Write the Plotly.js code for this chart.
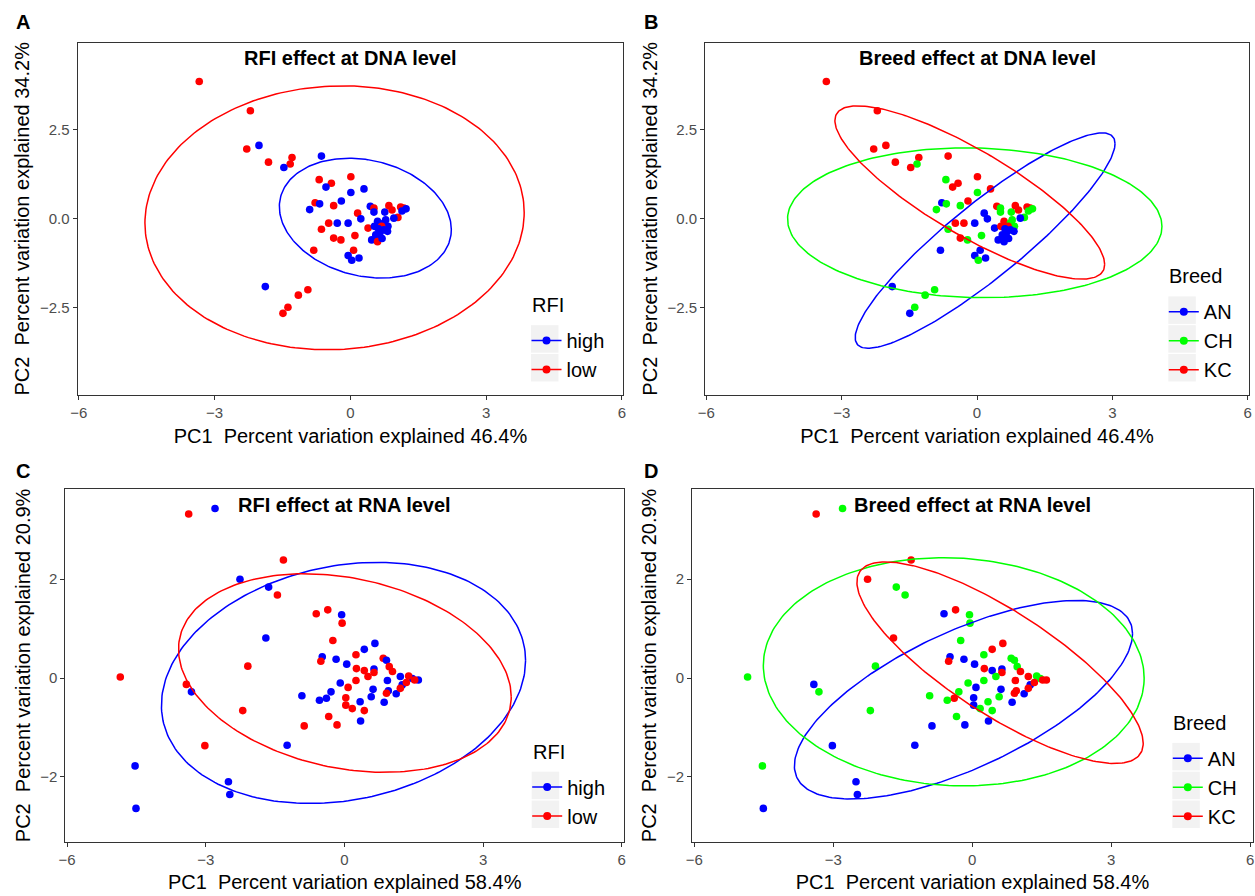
<!DOCTYPE html>
<html>
<head>
<meta charset="utf-8">
<script src="https://cdn.plot.ly/plotly-3.0.1.min.js"></script>
<style>html,body{margin:0;padding:0;background:#fff;}</style>
</head>
<body>
<div id="chart" style="width:1255px;height:896px;"></div>
<script>
// ---------------- DNA level PCA scores (panels A and B) ----------------
const dnaPC1 = [-3.34,-2.21,-2.29,-2.02,-1.81,-1.29,-1.33,-1.47,-0.64,-0.69,-0.42,-0.54,0.01,0.30,0.01,-0.20,-0.78,-0.68,-0.90,-0.37,0.16,-0.05,0.23,-0.29,-0.48,-0.64,-0.37,-0.21,0.10,0.39,-0.81,0.07,-0.05,0.03,0.19,-1.88,-0.94,-1.15,-1.38,-1.49,0.44,0.52,0.52,0.76,0.85,0.92,1.05,1.11,1.18,1.23,1.14,0.96,0.60,0.78,0.74,0.83,0.53,0.69,0.74,0.65,0.56,0.60,0.47,0.60,0.70,0.82,0.62];
const dnaPC2 = [3.85,3.03,1.96,2.06,1.59,1.72,1.54,1.44,1.76,1.10,1.00,0.89,1.18,0.84,0.74,0.50,0.45,0.42,0.26,0.37,0.16,-0.12,0.00,-0.12,-0.12,-0.29,-0.54,-0.59,-0.47,-0.26,-0.88,-0.88,-1.03,-1.16,-1.10,-1.90,-1.99,-2.14,-2.48,-2.65,0.35,0.30,0.19,0.19,0.37,0.25,0.04,0.33,0.30,0.28,0.22,0.02,-0.07,-0.03,-0.12,-0.21,-0.21,-0.21,-0.31,-0.40,-0.45,-0.50,-0.59,-0.64,-0.55,-0.35,-0.28];
const dnaRFI = ['low','low','low','high','low','low','low','high','high','low','low','high','low','high','high','high','low','high','high','low','low','high','high','high','low','low','low','low','low','low','low','low','high','high','high','high','low','low','low','low','high','low','high','high','low','low','low','low','low','high','high','high','high','high','high','high','high','low','high','high','high','high','high','low','high','high','high'];
const dnaBreed = ['KC','KC','KC','KC','KC','KC','CH','KC','KC','CH','KC','KC','KC','KC','CH','KC','AN','CH','CH','CH','AN','AN','AN','KC','KC','CH','KC','CH','CH','AN','AN','AN','AN','CH','AN','AN','CH','CH','CH','AN','KC','CH','CH','CH','KC','KC','CH','KC','KC','CH','CH','AN','KC','CH','CH','CH','KC','KC','AN','AN','AN','AN','AN','AN','AN','AN','AN'];

// ---------------- RNA level PCA scores (panels C and D) ----------------
const rnaPC1 = [-3.37,-2.80,-1.32,-2.26,-1.64,-1.45,-0.61,-0.36,-0.06,-0.05,-0.25,-1.70,-2.09,-4.85,-3.42,-3.31,-2.20,-3.02,-1.24,-4.53,-4.51,-2.51,-2.48,0.66,0.43,-0.48,-0.51,-0.18,0.05,0.25,0.26,0.43,0.64,0.64,0.51,0.84,0.91,0.97,1.04,0.25,-0.09,0.08,-0.29,-0.39,-0.54,-0.92,0.03,0.03,0.17,0.34,0.43,-0.34,-0.16,-0.87,0.35,0.62,0.58,0.86,0.95,0.91,0.93,1.12,1.21,1.25,1.60,1.47,1.21,1.39,1.52,1.34];
const rnaPC2 = [3.32,3.43,2.39,2.00,1.84,1.68,1.30,1.38,1.28,1.11,0.76,0.81,0.24,0.02,-0.13,-0.28,-0.66,-1.37,-1.36,-1.78,-2.64,-2.10,-2.36,0.70,0.58,0.43,0.34,0.38,0.28,0.47,0.19,0.15,0.18,0.11,0.03,0.40,0.36,0.23,0.13,-0.05,-0.10,-0.19,-0.28,-0.41,-0.45,-0.36,-0.40,-0.55,-0.62,-0.48,-0.66,-0.78,-0.95,-0.97,-0.87,-0.23,-0.38,-0.49,-0.26,-0.31,-0.05,-0.32,0.03,-0.14,-0.04,-0.01,-0.21,0.04,-0.04,-0.09];
const rnaRFI = ['low','high','low','high','high','low','low','low','high','low','low','high','low','low','low','high','low','low','high','high','high','high','high','high','high','high','low','high','high','low','low','low','high','low','low','low','high','low','low','low','high','low','high','high','high','high','low','low','low','high','low','low','low','low','high','high','high','high','high','low','high','high','high','high','high','high','low','low','low','low'];
const rnaBreed = ['KC','CH','KC','KC','CH','CH','AN','KC','CH','CH','CH','KC','CH','CH','AN','CH','CH','AN','AN','CH','AN','AN','AN','KC','KC','AN','KC','AN','AN','CH','KC','AN','AN','KC','CH','CH','CH','CH','KC','CH','CH','AN','CH','KC','CH','CH','AN','AN','CH','CH','CH','CH','AN','AN','AN','AN','CH','AN','KC','KC','KC','AN','KC','AN','KC','CH','KC','CH','KC','KC'];

// ---------------- group levels and colours ----------------
const rfiLevels = ['high','low'];
const rfiColors = ['#0000FF','#FF0000'];
const breedLevels = ['AN','CH','KC'];
const breedColors = ['#0000FF','#00FF00','#FF0000'];

// ---------------- 95% ellipse parameters ----------------
// centre (cx, cy), half extent along PC1 (w) and PC2 (h), correlation (rho)
const ellA_group = ['high','low'];
const ellA_cx = [0.33,-0.35]; const ellA_cy = [0.02,0.03];
const ellA_w = [1.90,4.19];   const ellA_h = [1.68,3.70];   const ellA_rho = [-0.19,0.04];
const ellB_group = ['AN','CH','KC'];
const ellB_cx = [0.18,-0.05,-0.16]; const ellB_cy = [-0.61,-0.11,0.74];
const ellB_w = [2.88,4.15,2.99];    const ellB_h = [3.02,2.10,2.43];    const ellB_rho = [0.90,-0.05,-0.83];
const ellC_group = ['high','low'];
const ellC_cx = [-0.02,0.01]; const ellC_cy = [-0.10,0.10];
const ellC_w = [3.94,3.60];   const ellC_h = [2.44,2.01];   const ellC_rho = [0.185,-0.24];
const ellD_group = ['AN','CH','KC'];
const ellD_cx = [-0.19,-0.40,0.60]; const ellD_cy = [-0.44,0.125,0.31];
const ellD_w = [3.65,4.11,3.09];    const ellD_h = [2.01,2.31,2.04];    const ellD_rho = [0.665,-0.055,-0.80];

// ---------------- layout helpers ----------------
const W = 1255, H = 896;
const FONT = 'Liberation Sans, Arial, Helvetica, sans-serif';
const px = v => v / W;
const py = v => 1 - v / H;

function colorOf(levels, colors, g) { return colors[levels.indexOf(g)]; }

function pointsTrace(xs, ys, groups, levels, colors, xa, ya) {
  return {type:'scatter', mode:'markers', x:xs, y:ys, xaxis:xa, yaxis:ya,
    marker:{size:7.6, color:groups.map(g => colorOf(levels, colors, g)), line:{width:0}},
    showlegend:false, hoverinfo:'skip'};
}
function ellipseTrace(cx, cy, w, h, rho, color, xa, ya) {
  const n = 240, xs = [], ys = [], s = Math.sqrt(1 - rho*rho);
  for (let i = 0; i <= n; i++) {
    const t = 2*Math.PI*i/n;
    xs.push(cx + w*Math.cos(t));
    ys.push(cy + h*(rho*Math.cos(t) + s*Math.sin(t)));
  }
  return {type:'scatter', mode:'lines', x:xs, y:ys, xaxis:xa, yaxis:ya,
    line:{color:color, width:1.5}, showlegend:false, hoverinfo:'skip'};
}
function legendTraces(levels, colors, legendId, xa, ya) {
  return levels.map((g, i) => ({type:'scatter', mode:'lines+markers', x:[null], y:[null],
    xaxis:xa, yaxis:ya, name:g, legend:legendId,
    line:{color:colors[i], width:1.5}, marker:{color:colors[i], size:8}, hoverinfo:'skip'}));
}

const traces = [];
// Panel A
traces.push(pointsTrace(dnaPC1, dnaPC2, dnaRFI, rfiLevels, rfiColors, 'x', 'y'));
ellA_group.forEach((g, i) => traces.push(ellipseTrace(ellA_cx[i], ellA_cy[i], ellA_w[i], ellA_h[i], ellA_rho[i], colorOf(rfiLevels, rfiColors, g), 'x', 'y')));
traces.push(...legendTraces(rfiLevels, rfiColors, 'legend', 'x', 'y'));
// Panel B
traces.push(pointsTrace(dnaPC1, dnaPC2, dnaBreed, breedLevels, breedColors, 'x2', 'y2'));
ellB_group.forEach((g, i) => traces.push(ellipseTrace(ellB_cx[i], ellB_cy[i], ellB_w[i], ellB_h[i], ellB_rho[i], colorOf(breedLevels, breedColors, g), 'x2', 'y2')));
traces.push(...legendTraces(breedLevels, breedColors, 'legend2', 'x2', 'y2'));
// Panel C
traces.push(pointsTrace(rnaPC1, rnaPC2, rnaRFI, rfiLevels, rfiColors, 'x3', 'y3'));
ellC_group.forEach((g, i) => traces.push(ellipseTrace(ellC_cx[i], ellC_cy[i], ellC_w[i], ellC_h[i], ellC_rho[i], colorOf(rfiLevels, rfiColors, g), 'x3', 'y3')));
traces.push(...legendTraces(rfiLevels, rfiColors, 'legend3', 'x3', 'y3'));
// Panel D
traces.push(pointsTrace(rnaPC1, rnaPC2, rnaBreed, breedLevels, breedColors, 'x4', 'y4'));
ellD_group.forEach((g, i) => traces.push(ellipseTrace(ellD_cx[i], ellD_cy[i], ellD_w[i], ellD_h[i], ellD_rho[i], colorOf(breedLevels, breedColors, g), 'x4', 'y4')));
traces.push(...legendTraces(breedLevels, breedColors, 'legend4', 'x4', 'y4'));

// panel boxes in pixels: [left, right, top, bottom]
const boxA = [77.5, 623.3, 42.7, 395];
const boxB = [705, 1249, 42.7, 395];
const boxC = [65.3, 624, 489.3, 841.5];
const boxD = [692, 1253, 489.3, 841.5];

function xAxis(box, range, titleText, anchor) {
  return {domain:[px(box[0]), px(box[1])], range:range, anchor:anchor,
    tickvals:[-6,-3,0,3,6], ticktext:['\u22126','\u22123','0','3','6'],
    showgrid:false, zeroline:false, showline:true, mirror:true, linecolor:'#333333', linewidth:1,
    ticks:'outside', ticklen:4, tickwidth:1, tickcolor:'#333333',
    tickfont:{family:FONT, size:15, color:'#4D4D4D'},
    title:{text:titleText, font:{family:FONT, size:20, color:'#000000'}, standoff:8}};
}
function yAxis(box, range, vals, texts, titleText, anchor) {
  return {domain:[py(box[3]), py(box[2])], range:range, anchor:anchor,
    tickvals:vals, ticktext:texts,
    showgrid:false, zeroline:false, showline:true, mirror:true, linecolor:'#333333', linewidth:1,
    ticks:'outside', ticklen:4, tickwidth:1, tickcolor:'#333333',
    tickfont:{family:FONT, size:15, color:'#4D4D4D'},
    title:{text:titleText, font:{family:FONT, size:20, color:'#000000'}, standoff:4}};
}

const dnaX = 'PC1 \u00A0Percent variation explained 46.4%';
const dnaY = 'PC2 \u00A0Percent variation explained 34.2%';
const rnaX = 'PC1 \u00A0Percent variation explained 58.4%';
const rnaY = 'PC2 \u00A0Percent variation explained 20.9%';
const dnaYTicks = [-2.5, 0, 2.5], dnaYText = ['\u22122.5','0.0','2.5'];
const rnaYTicks = [-2, 0, 2], rnaYText = ['\u22122','0','2'];

// legend key boxes (pixels): left, first row top, rows, title
const keySize = 27.5, keyPitch = 28.8;
function legendSpec(boxLeft, firstTop) {
  return {x:px(boxLeft - 4.5), y:py(firstTop + keySize/2 - 19.5 + 1.5), xanchor:'left', yanchor:'top',
    bgcolor:'rgba(0,0,0,0)', borderwidth:0, font:{family:FONT, size:20, color:'#000000'},
    itemclick:false, itemdoubleclick:false};
}
const legA = [531.0, 325.2, 2, 'RFI'];
const legB = [1168.3, 296.4, 3, 'Breed'];
const legC = [531.7, 771.7, 2, 'RFI'];
const legD = [1172.3, 742.9, 3, 'Breed'];

const shapes = [];
[legA, legB, legC, legD].forEach(l => {
  for (let i = 0; i < l[2]; i++) {
    const top = l[1] + i*keyPitch;
    shapes.push({type:'rect', xref:'paper', yref:'paper', layer:'above',
      x0:px(l[0]), x1:px(l[0] + keySize), y0:py(top + keySize), y1:py(top),
      fillcolor:'#F2F2F2', line:{width:0}});
  }
});

function ann(text, x, y, size, bold, xanchor) {
  return {text:text, xref:'paper', yref:'paper', x:x, y:y, xanchor:xanchor || 'center', yanchor:'middle',
    showarrow:false, font:{family:FONT, size:size, color:'#000000', weight: bold ? 'bold' : 'normal'}};
}
const annotations = [
  ann('A', px(23), py(22.5), 20, true),
  ann('B', px(651), py(22.5), 20, true),
  ann('C', px(23), py(471), 20, true),
  ann('D', px(651), py(471), 20, true),
  ann('RFI effect at DNA level', px((boxA[0]+boxA[1])/2), py(58), 20, true),
  ann('Breed effect at DNA level', px((boxB[0]+boxB[1])/2), py(58), 20, true),
  ann('RFI effect at RNA level', px((boxC[0]+boxC[1])/2), py(505), 20, true),
  ann('Breed effect at RNA level', px((boxD[0]+boxD[1])/2), py(505), 20, true)
];
// legend titles
[legA, legB, legC, legD].forEach(l => annotations.push(ann(l[3], px(l[0] - 1), py(l[1] - 20), 20, false, 'left')));

const layout = {
  width:W, height:H, margin:{l:0, r:0, t:0, b:0},
  paper_bgcolor:'#FFFFFF', plot_bgcolor:'rgba(0,0,0,0)',
  font:{family:FONT},
  xaxis: xAxis(boxA, [-6.03, 6.03], dnaX, 'y'),
  yaxis: yAxis(boxA, [-4.94, 4.94], dnaYTicks, dnaYText, dnaY, 'x'),
  xaxis2: xAxis(boxB, [-6.03, 6.03], dnaX, 'y2'),
  yaxis2: yAxis(boxB, [-4.94, 4.94], dnaYTicks, dnaYText, dnaY, 'x2'),
  xaxis3: xAxis(boxC, [-6.04, 6.05], rnaX, 'y3'),
  yaxis3: yAxis(boxC, [-3.31, 3.82], rnaYTicks, rnaYText, rnaY, 'x3'),
  xaxis4: xAxis(boxD, [-6.05, 6.06], rnaX, 'y4'),
  yaxis4: yAxis(boxD, [-3.31, 3.82], rnaYTicks, rnaYText, rnaY, 'x4'),
  legend: legendSpec(legA[0], legA[1]),
  legend2: legendSpec(legB[0], legB[1]),
  legend3: legendSpec(legC[0], legC[1]),
  legend4: legendSpec(legD[0], legD[1]),
  shapes: shapes,
  annotations: annotations,
  showlegend: true
};

Plotly.newPlot('chart', traces, layout, {displayModeBar:false, staticPlot:true});
</script>
</body>
</html>
